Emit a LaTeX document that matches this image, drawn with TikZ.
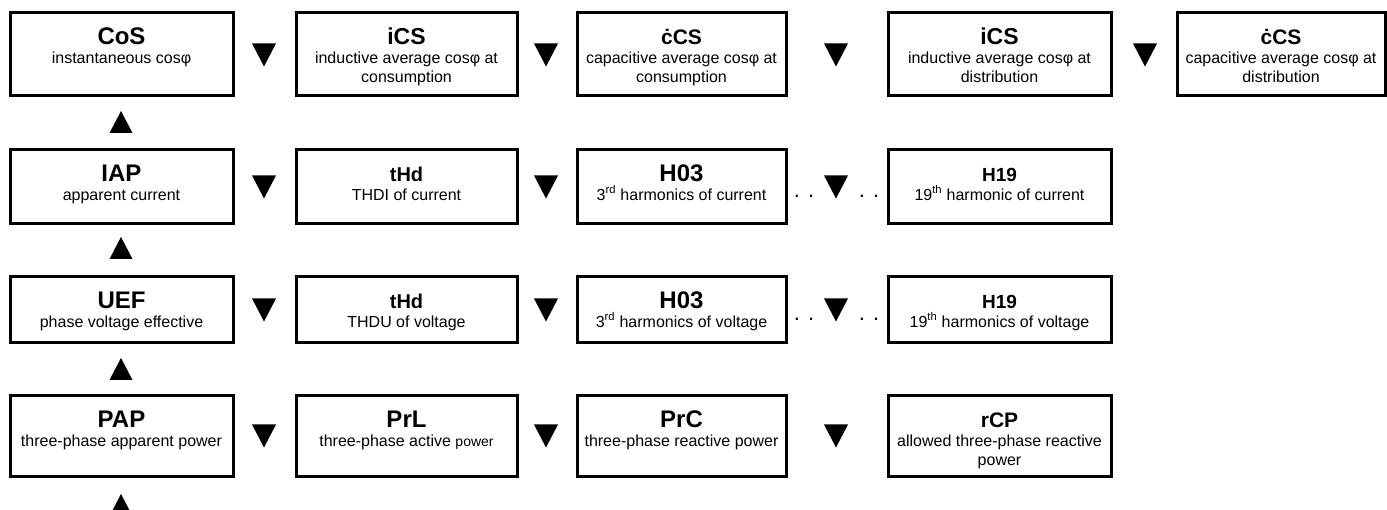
\documentclass[tikz,border=0pt]{standalone}
\usepackage{fontspec}
\setmainfont{Liberation Sans}
\usetikzlibrary{positioning}

\tikzset{
  menubox/.style={draw, rectangle, line width=3pt, inner sep=0pt, outer sep=0pt, anchor=north west},
  menutext/.style={anchor=north, inner sep=0pt, align=center, font=\fontsize{16}{19}\selectfont},
  dots/.style={anchor=base, inner sep=0pt, font=\fontsize{22}{22}\selectfont},
  tridown/.pic={\fill (-12,-11.5) -- (12,-11.5) -- (0,11.5) -- cycle;},
  triup/.pic={\fill (-11.5,11) -- (11.5,11) -- (0,-11) -- cycle;}
}
\newcommand{\boxtitle}[2][24]{{\fontsize{#1}{#1}\selectfont\bfseries\rule{0pt}{18pt}#2}}

\begin{document}
\begin{tikzpicture}[x=1pt, y=-1pt]
\useasboundingbox (0,0) rectangle (1387,510);

% Row 1: cos phi
\node[menubox, minimum width=223pt, minimum height=83pt] (cos) at (10,13) {};
\node[menubox, minimum width=221pt, minimum height=83pt] (icsc) at (296,13) {};
\node[menubox, minimum width=209pt, minimum height=83pt] (ccsc) at (577,13) {};
\node[menubox, minimum width=223pt, minimum height=83pt] (icsd) at (888,13) {};
\node[menubox, minimum width=208pt, minimum height=83pt] (ccsd) at (1177,13) {};
\node[menutext, below=13pt of cos.north] (cos-t) {\boxtitle{CoS}\\ instantaneous cosφ};
\node[menutext, below=13pt of icsc.north] (icsc-t) {\boxtitle[23]{iCS}\\ inductive average cosφ at\\ consumption};
\node[menutext, below=13pt of ccsc.north] (ccsc-t) {\boxtitle[21]{ċCS}\\ capacitive average cosφ at\\ consumption};
\node[menutext, below=13pt of icsd.north] (icsd-t) {\boxtitle[23]{iCS}\\ inductive average cosφ at\\ distribution};
\node[menutext, below=13pt of ccsd.north] (ccsd-t) {\boxtitle[21]{ċCS}\\ capacitive average cosφ at\\ distribution};

% Row 2: current
\node[menubox, minimum width=223pt, minimum height=74pt] (iap) at (10,150) {};
\node[menubox, minimum width=221pt, minimum height=74pt] (thdi) at (296,150) {};
\node[menubox, minimum width=209pt, minimum height=74pt] (hic3) at (577,150) {};
\node[menubox, minimum width=223pt, minimum height=74pt] (hic19) at (888,150) {};
\node[menutext, below=13pt of iap.north] (iap-t) {\boxtitle{IAP}\\ apparent current};
\node[menutext, below=13pt of thdi.north] (thdi-t) {\boxtitle[20]{tHd}\\ THDI of current};
\node[menutext, below=13pt of hic3.north] (hic3-t) {\boxtitle{H03}\\ 3\textsuperscript{rd} harmonics of current};
\node[menutext, below=13pt of hic19.north] (hic19-t) {\boxtitle[19]{H19}\\ 19\textsuperscript{th} harmonic of current};

% Row 3: voltage
\node[menubox, minimum width=223pt, minimum height=66pt] (uef) at (10,277) {};
\node[menubox, minimum width=221pt, minimum height=66pt] (thdu) at (296,277) {};
\node[menubox, minimum width=209pt, minimum height=66pt] (huv3) at (577,277) {};
\node[menubox, minimum width=223pt, minimum height=66pt] (huv19) at (888,277) {};
\node[menutext, below=13pt of uef.north] (uef-t) {\boxtitle{UEF}\\ phase voltage effective};
\node[menutext, below=13pt of thdu.north] (thdu-t) {\boxtitle[20]{tHd}\\ THDU of voltage};
\node[menutext, below=13pt of huv3.north] (huv3-t) {\boxtitle{H03}\\ 3\textsuperscript{rd} harmonics of voltage};
\node[menutext, below=13pt of huv19.north] (huv19-t) {\boxtitle[19]{H19}\\ 19\textsuperscript{th} harmonics of voltage};

% Row 4: power
\node[menubox, minimum width=223pt, minimum height=80pt] (pap) at (10,396) {};
\node[menubox, minimum width=221pt, minimum height=80pt] (prl) at (296,396) {};
\node[menubox, minimum width=209pt, minimum height=80pt] (prc) at (577,396) {};
\node[menubox, minimum width=223pt, minimum height=80pt] (rcp) at (888,396) {};
\node[menutext, below=13pt of pap.north] (pap-t) {\boxtitle{PAP}\\ three-phase apparent power};
\node[menutext, below=13pt of prl.north] (prl-t) {\boxtitle{PrL}\\ three-phase active {\fontsize{14}{19}\selectfont power}};
\node[menutext, below=13pt of prc.north] (prc-t) {\boxtitle{PrC}\\ three-phase reactive power};
\node[menutext, below=13pt of rcp.north] (rcp-t) {\boxtitle[21]{rCP}\\ allowed three-phase reactive\\ power};

% Down keys
\pic at (264,55) {tridown};
\pic at (546,55) {tridown};
\pic at (836,55) {tridown};
\pic at (1145,55) {tridown};
\pic at (264,187) {tridown};
\pic at (546,187) {tridown};
\pic at (836,187) {tridown};
\pic at (264,310) {tridown};
\pic at (546,310) {tridown};
\pic at (836,310) {tridown};
\pic at (264,436) {tridown};
\pic at (546,436) {tridown};
\pic at (836,436) {tridown};
\node[dots] (dl2) at (804,198) {. .};
\node[dots] (dr2) at (869,198) {. .};
\node[dots] (dl3) at (804,321) {. .};
\node[dots] (dr3) at (869,321) {. .};

% Up keys
\pic at (121,122) {triup};
\pic at (121,248) {triup};
\pic at (121,369) {triup};
\pic at (121,505) {triup};
\end{tikzpicture}
\end{document}
